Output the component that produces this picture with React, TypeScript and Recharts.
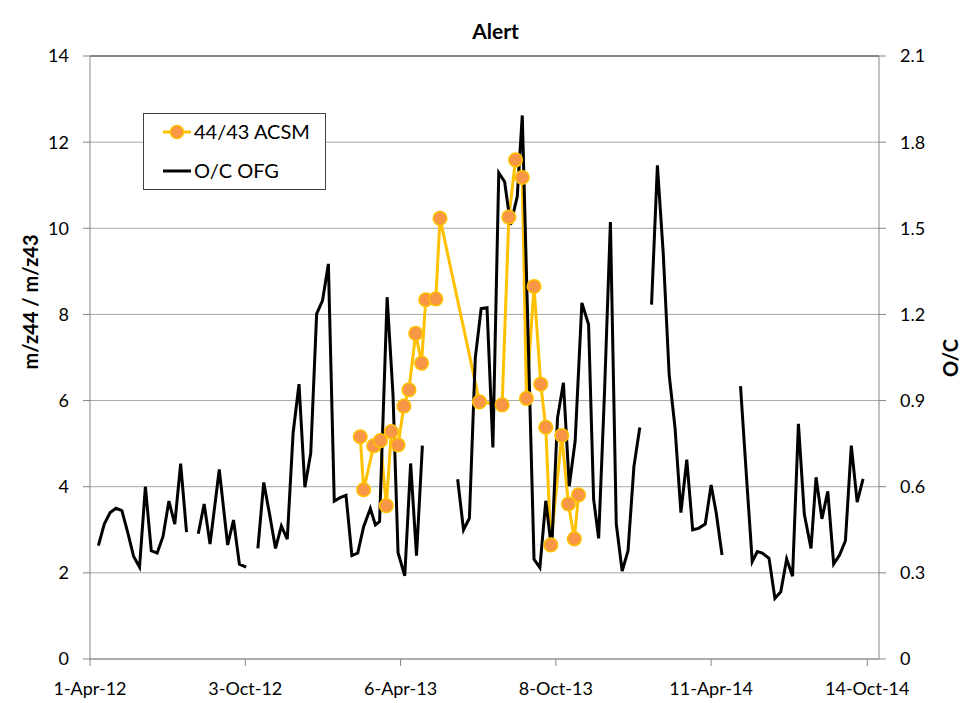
import { LineChart, Line, XAxis, YAxis, CartesianGrid, ReferenceLine } from 'recharts'

// ── data ────────────────────────────────────────────────────────────────────

const xTickDates = ['2012-04-01', '2012-10-03', '2013-04-06', '2013-10-08', '2014-04-11', '2014-10-14']
const leftTicks = [0, 2, 4, 6, 8, 10, 12, 14]
const rightTicks = [0, 0.3, 0.6, 0.9, 1.2, 1.5, 1.8, 2.1]

// 44/43 ACSM (left axis)
const acsmDates = [
  '2013-02-17', '2013-02-21', '2013-03-05', '2013-03-13', '2013-03-20', '2013-03-26', '2013-04-03',
  '2013-04-10', '2013-04-16', '2013-04-24', '2013-05-01', '2013-05-06', '2013-05-18', '2013-05-23',
  '2013-07-09', '2013-08-05', '2013-08-13', '2013-08-21', '2013-08-29', '2013-09-03', '2013-09-12',
  '2013-09-20', '2013-09-26', '2013-10-02', '2013-10-15', '2013-10-23', '2013-10-30', '2013-11-04',
]
const acsmValues = [
  5.16, 3.93, 4.95, 5.07, 3.56, 5.28, 4.97,
  5.87, 6.25, 7.56, 6.87, 8.34, 8.36, 10.23,
  5.97, 5.9, 10.26, 11.59, 11.18, 6.05, 8.65,
  6.38, 5.38, 2.65, 5.19, 3.6, 2.79, 3.81,
]

// O/C OFG (right axis), null = gap in the line
const ocDates = [
  '2012-04-11', '2012-04-18', '2012-04-25', '2012-05-02', '2012-05-09', '2012-05-16', '2012-05-23',
  '2012-05-30', '2012-06-06', '2012-06-13', '2012-06-20', '2012-06-27', '2012-07-04', '2012-07-11',
  '2012-07-18', '2012-07-25', '2012-08-01', '2012-08-08', '2012-08-15', '2012-08-22', '2012-09-02',
  '2012-09-12', '2012-09-19', '2012-09-26', '2012-10-04', '2012-10-11', '2012-10-18', '2012-10-25',
  '2012-11-01', '2012-11-08', '2012-11-15', '2012-11-22', '2012-11-29', '2012-12-06', '2012-12-13',
  '2012-12-20', '2012-12-27', '2013-01-03', '2013-01-10', '2013-01-17', '2013-01-24', '2013-01-31',
  '2013-02-07', '2013-02-14', '2013-02-21', '2013-03-01', '2013-03-07', '2013-03-12', '2013-03-21',
  '2013-03-28', '2013-04-03', '2013-04-11', '2013-04-18', '2013-04-25', '2013-05-02', '2013-05-23',
  '2013-06-13', '2013-06-20', '2013-06-27', '2013-07-04', '2013-07-11', '2013-07-18', '2013-07-25',
  '2013-08-01', '2013-08-08', '2013-08-15', '2013-08-23', '2013-08-29', '2013-09-05', '2013-09-12',
  '2013-09-19', '2013-09-26', '2013-10-03', '2013-10-10', '2013-10-17', '2013-10-24', '2013-10-31',
  '2013-11-08', '2013-11-16', '2013-11-22', '2013-11-28', '2013-12-05', '2013-12-12', '2013-12-19',
  '2013-12-26', '2014-01-02', '2014-01-09', '2014-01-16', '2014-01-23', '2014-01-30', '2014-02-06',
  '2014-02-13', '2014-02-20', '2014-02-27', '2014-03-06', '2014-03-13', '2014-03-20', '2014-03-27',
  '2014-04-04', '2014-04-11', '2014-04-17', '2014-04-24', '2014-05-05', '2014-05-16', '2014-05-23',
  '2014-05-30', '2014-06-05', '2014-06-11', '2014-06-19', '2014-06-26', '2014-07-03', '2014-07-10',
  '2014-07-17', '2014-07-24', '2014-07-31', '2014-08-08', '2014-08-14', '2014-08-21', '2014-08-28',
  '2014-09-04', '2014-09-11', '2014-09-18', '2014-09-25', '2014-10-02', '2014-10-09',
]
const ocValues = [
  0.395, 0.47, 0.51, 0.525, 0.517, 0.44, 0.357,
  0.32, 0.6, 0.377, 0.369, 0.427, 0.55, 0.47,
  0.68, 0.442, null, 0.436, 0.54, 0.4, 0.66,
  0.397, 0.484, 0.33, 0.32, null, 0.385, 0.615,
  0.503, 0.385, 0.463, 0.417, 0.788, 0.957, 0.598,
  0.717, 1.202, 1.248, 1.376, 0.55, 0.562, 0.57,
  0.36, 0.369, 0.461, 0.524, 0.467, 0.479, 1.26,
  0.92, 0.37, 0.29, 0.681, 0.36, 0.743, null,
  0.626, 0.45, 0.49, 1.048, 1.22, 1.223, 0.737,
  1.693, 1.662, 1.512, 1.61, 1.893, 1.12, 0.347,
  0.318, 0.551, 0.381, 0.84, 0.962, 0.602, 0.759,
  1.24, 1.165, 0.557, 0.42, 0.93, 1.522, 0.47,
  0.306, 0.377, 0.67, 0.806, null, 1.234, 1.719,
  1.41, 0.99, 0.805, 0.51, 0.694, 0.45, 0.455,
  0.47, 0.606, 0.51, 0.362, null, 0.95, 0.64,
  0.339, 0.374, 0.369, 0.351, 0.211, 0.234, 0.348,
  0.288, 0.819, 0.505, 0.385, 0.633, 0.488, 0.584,
  0.331, 0.362, 0.412, 0.743, 0.546, 0.627,
]

const MONTHS = ['Jan', 'Feb', 'Mar', 'Apr', 'May', 'Jun', 'Jul', 'Aug', 'Sep', 'Oct', 'Nov', 'Dec']
const FONT = 'Lato, "Open Sans", sans-serif'

const toT = (d: string) => Date.parse(d + 'T00:00:00Z')

function fmtDate(t: number): string {
  const d = new Date(t)
  return `${d.getUTCDate()}-${MONTHS[d.getUTCMonth()]}-${String(d.getUTCFullYear()).slice(2)}`
}

const acsmData = acsmDates.map((d, i) => ({ t: toT(d), v: acsmValues[i] }))
const ocData = ocDates.map((d, i) => ({ t: toT(d), v: ocValues[i] }))

const tickStyle = { fill: '#000', fontSize: 18, fontFamily: FONT }

function LegendBox() {
  return (
    <div
      style={{
        position: 'absolute', left: 143, top: 113, width: 181, height: 75,
        border: '1px solid #404040', background: '#fff', fontFamily: FONT, fontSize: 20,
      }}
    >
      <svg width={181} height={75} style={{ position: 'absolute', left: 0, top: 0 }}>
        <line x1={19} x2={47} y1={18} y2={18} stroke="#FFC000" strokeWidth={3} />
        <circle cx={33} cy={18} r={6.5} fill="#F79646" stroke="#FFC000" strokeWidth={1.5} />
        <line x1={19} x2={47} y1={57} y2={57} stroke="#000" strokeWidth={3} />
        <text x={50} y={25} fontSize={20} fontFamily={FONT}>44/43 ACSM</text>
        <text x={50} y={64} fontSize={20} fontFamily={FONT}>O/C OFG</text>
      </svg>
    </div>
  )
}

export default function App() {
  return (
    <div style={{ position: 'absolute', left: 0, top: 0, width: 961, height: 703, background: '#fff' }}>
      <LineChart width={961} height={703} margin={{ top: 56, right: 32, bottom: 14, left: 30 }}>
        <CartesianGrid yAxisId="left" vertical={false} stroke="#a6a6a6" />
        <XAxis
          dataKey="t"
          type="number"
          domain={[toT('2012-04-01'), toT('2014-10-28')]}
          ticks={xTickDates.map(toT)}
          tickFormatter={fmtDate}
          allowDataOverflow
          height={30}
          stroke="#868686"
          tickSize={7}
          tickMargin={16}
          tick={tickStyle}
        />
        <YAxis
          yAxisId="left"
          domain={[0, 14]}
          ticks={leftTicks}
          width={60}
          stroke="#868686"
          tickSize={7}
          tickMargin={14}
          tick={tickStyle}
        />
        <YAxis
          yAxisId="right"
          orientation="right"
          domain={[0, 2.1]}
          ticks={rightTicks}
          tickFormatter={(v: number) => (v === 0 ? '0' : v.toFixed(1))}
          width={50}
          stroke="#868686"
          tickSize={7}
          tickMargin={14}
          tick={tickStyle}
        />
        <ReferenceLine yAxisId="left" y={14} stroke="#3a3a3a" strokeWidth={1.2} />
        <Line
          yAxisId="left"
          data={acsmData}
          dataKey="v"
          type="linear"
          stroke="#FFC000"
          strokeWidth={3}
          dot={{ r: 6.8, fill: '#F79646', stroke: '#FFC000', strokeWidth: 1.5 }}
          isAnimationActive={false}
        />
        <Line
          yAxisId="right"
          data={ocData}
          dataKey="v"
          type="linear"
          stroke="#000"
          strokeWidth={3}
          dot={false}
          connectNulls={false}
          isAnimationActive={false}
        />
      </LineChart>

      <div
        style={{
          position: 'absolute', left: 0, width: 961, top: 18, textAlign: 'center',
          fontFamily: FONT, fontWeight: 700, fontSize: 21, paddingLeft: 15,
        }}
      >
        Alert
      </div>
      <div
        style={{
          position: 'absolute', left: 30, top: 302, transform: 'translate(-50%, -50%) rotate(-90deg)',
          fontFamily: FONT, fontWeight: 700, fontSize: 20, whiteSpace: 'nowrap',
        }}
      >
        m/z44 / m/z43
      </div>
      <div
        style={{
          position: 'absolute', left: 950, top: 358, transform: 'translate(-50%, -50%) rotate(-90deg)',
          fontFamily: FONT, fontWeight: 700, fontSize: 20, whiteSpace: 'nowrap',
        }}
      >
        O/C
      </div>
      <LegendBox />
    </div>
  )
}
